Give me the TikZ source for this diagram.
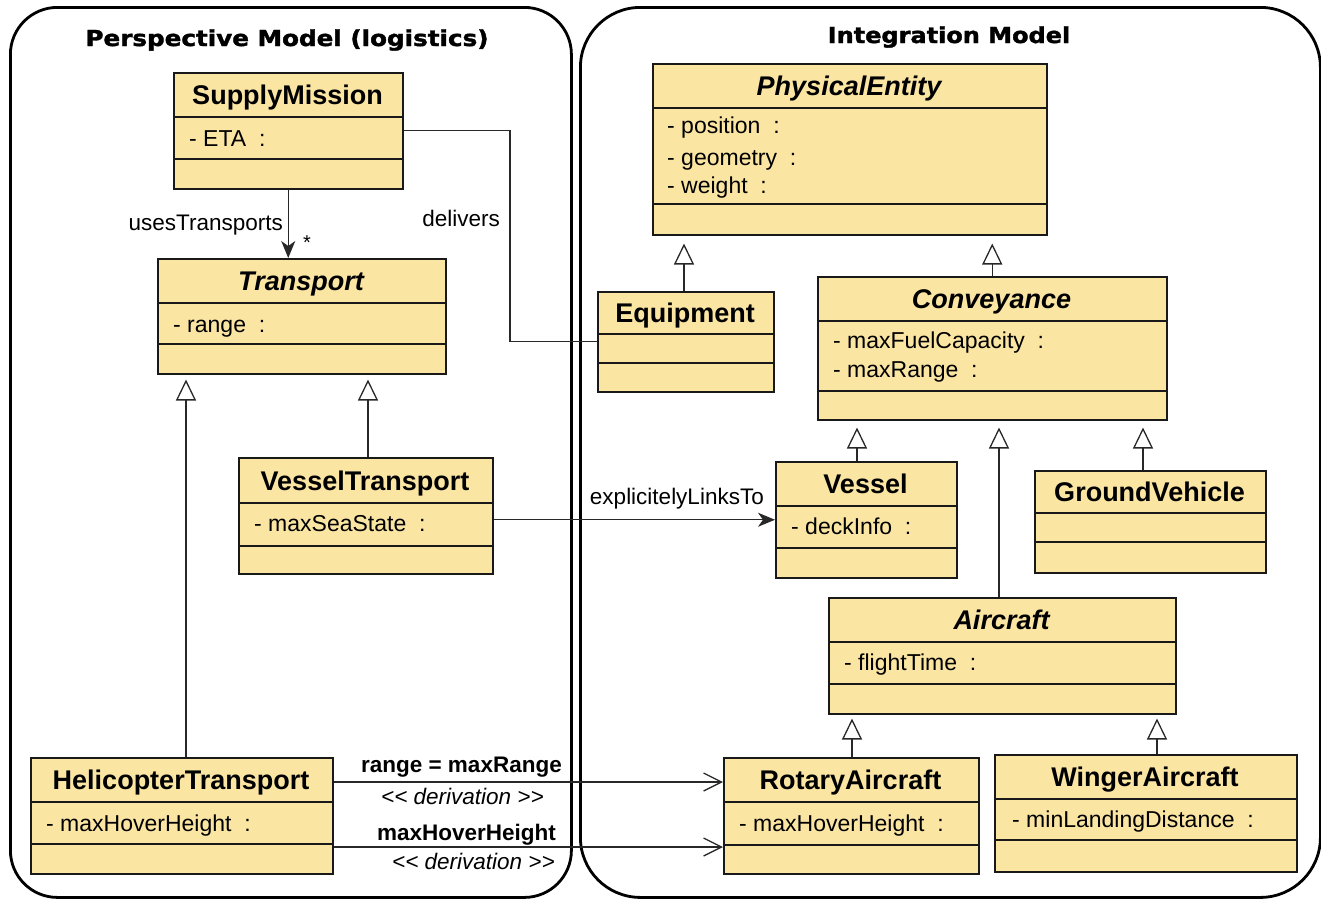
\documentclass[tikz,border=0pt]{standalone}
\usepackage{fontspec}
\usepackage{graphicx}
\setmainfont{Liberation Sans}
\newfontfamily\headfont[BoldFeatures={FakeBold=1.6}]{DejaVu Sans}
\usetikzlibrary{arrows.meta,calc}

\definecolor{classfill}{RGB}{250,229,163}
\definecolor{edge}{RGB}{40,40,40}

\tikzset{
  frame/.style={draw=black, line width=2.8pt, rectangle, inner sep=0pt, anchor=north west},
  classbox/.style={draw=black!90, line width=1.5pt, fill=classfill, rectangle, inner sep=0pt, anchor=north west},
  divider/.style={draw=black!90, line width=1.3pt},
  clsname/.style={font=\fontsize{27}{32}\selectfont\bfseries, anchor=base, inner sep=0pt},
  absname/.style={font=\fontsize{27}{32}\selectfont\bfseries\itshape, anchor=base, inner sep=0pt},
  attr/.style={font=\fontsize{23}{27}\selectfont, anchor=base west, inner sep=0pt},
  lbl/.style={font=\fontsize{22.5}{27}\selectfont, anchor=base east, inner sep=0pt},
  boldlbl/.style={font=\fontsize{22.5}{27}\selectfont\bfseries, anchor=base east, inner sep=0pt},
  stereo/.style={font=\fontsize{22.5}{27}\selectfont\itshape, anchor=base east, inner sep=0pt},
  heading/.style={font=\headfont\fontsize{22}{26}\selectfont\bfseries, anchor=base, inner sep=0pt},
  link/.style={draw=edge, line width=1.3pt},
  assoc/.style={link, -{Stealth[length=17pt,width=14pt,inset=5pt]}},
  deriv/.style={link, -{Straight Barb[length=18pt,width=18pt]}},
  inherit/.style={link, -{Triangle[length=21pt,width=20pt,fill=white]}},
}

% #1 node name, #2/#3 top-left corner, #4/#5 bottom-right corner,
% #6/#7 compartment separators, #8 name style, #9 class name
\newcommand\umlclass[9]{%
  \node[classbox, minimum width={(#4-#2)*1pt}, minimum height={(#5-#3)*1pt}] (#1) at (#2,#3) {};
  \draw[divider] (#2,#6) -- (#4,#6) (#2,#7) -- (#4,#7);
  \node[#8] (#1-name) at ({(#2+#4)/2},{(#3+#6)/2+10}) {#9};
}

\begin{document}
\begin{tikzpicture}[x=1pt, y=-1pt]
\useasboundingbox (0,0) rectangle (1321,898);

% package frames
\node[frame, rounded corners=47pt, minimum width=561pt, minimum height=890pt] (persp) at (9,6) {};
\node[frame, rounded corners=60pt, minimum width=740pt, minimum height=890pt] (integ) at (579,6) {};
\node[heading] (persp-title) at (287,46) {\scalebox{1.12}[1]{Perspective Model (logistics)}};
\node[heading] (integ-title) at (949,43) {\scalebox{1.09}[1]{Integration Model}};

% perspective model classes
\umlclass{sm}{173}{72}{402}{188}{117}{159}{clsname}{SupplyMission}
\node[attr] (sm-a1) at (189,146) {- ETA~~:};

\umlclass{tr}{157}{258}{445}{373}{303}{344}{absname}{Transport}
\node[attr] (tr-a1) at (173,332) {- range~~:};

\umlclass{vt}{238}{457}{492}{573}{503}{546}{clsname}{VesselTransport}
\node[attr] (vt-a1) at (254,531) {- maxSeaState~~:};

\umlclass{ht}{30}{757}{332}{873}{802}{844}{clsname}{HelicopterTransport}
\node[attr] (ht-a1) at (46,831) {- maxHoverHeight~~:};

% integration model classes
\umlclass{pe}{652}{63}{1046}{234}{108}{204}{absname}{PhysicalEntity}
\node[attr] (pe-a1) at (667,133) {- position~~:};
\node[attr] (pe-a2) at (667,165) {- geometry~~:};
\node[attr] (pe-a3) at (667,193) {- weight~~:};

\umlclass{eq}{597}{291}{773}{391}{334}{363}{clsname}{Equipment}

\umlclass{cv}{817}{276}{1166}{419}{321}{391}{absname}{Conveyance}
\node[attr] (cv-a1) at (833,348) {- maxFuelCapacity~~:};
\node[attr] (cv-a2) at (833,377) {- maxRange~~:};

\umlclass{ve}{775}{461}{956}{577}{506}{548}{clsname}{Vessel}
\node[attr] (ve-a1) at (791,534) {- deckInfo~~:};

\umlclass{gv}{1034}{470}{1265}{572}{513}{542}{clsname}{GroundVehicle}

\umlclass{ac}{828}{597}{1175}{713}{642}{684}{absname}{Aircraft}
\node[attr] (ac-a1) at (844,670) {- flightTime~~:};

\umlclass{rt}{723}{757}{978}{873}{802}{845}{clsname}{RotaryAircraft}
\node[attr] (rt-a1) at (739,831) {- maxHoverHeight~~:};

\umlclass{wa}{994}{754}{1296}{871}{799}{840}{clsname}{WingerAircraft}
\node[attr] (wa-a1) at (1012,827) {- minLandingDistance~~:};

% helper coordinates for connector routing
\coordinate (dbend) at (510,0);
\coordinate (d1) at (0,782);
\coordinate (d2) at (0,847);
\coordinate (g1) at (186,0);
\coordinate (g2) at (368,0);
\coordinate (g3) at (684,0);
\coordinate (g4) at (857,0);
\coordinate (g5) at (999,0);
\coordinate (g6) at (1143,0);
\coordinate (g7) at (852,0);
\coordinate (g8) at (1157,0);

% associations
\draw[assoc] (sm.south) -- (sm.south |- tr.north);
\node[lbl] (uses-lbl) at (283,230) {usesTransports};
\node[font=\fontsize{20}{24}\selectfont, inner sep=0pt] (uses-mult) at (307,243) {*};

\draw[link] (sm.east) -| (dbend |- eq.west) -- (eq.west);
\node[lbl] (deliv-lbl) at (500,226) {delivers};

\draw[assoc] (vt.east |- ve.west) -- (ve.west);
\node[lbl] (links-lbl) at (764,504) {explicitelyLinksTo};

% derivations
\draw[deriv] (ht.east |- d1) -- (rt.west |- d1);
\node[boldlbl] (der1-lbl) at (562,772) {range = maxRange};
\node[stereo] (der1-st) at (544,804) {<{}< derivation >{}>};
\draw[deriv] (ht.east |- d2) -- (rt.west |- d2);
\node[boldlbl] (der2-lbl) at (556,840) {maxHoverHeight};
\node[stereo] (der2-st) at (555,869) {<{}< derivation >{}>};

% generalizations
\draw[inherit, shorten >=5pt] (ht.north -| g1) -- (tr.south -| g1);
\draw[inherit, shorten >=5pt] (vt.north -| g2) -- (tr.south -| g2);
\draw[inherit, shorten >=8pt] (eq.north -| g3) -- (pe.south -| g3);
\draw[inherit, shorten >=8pt] (cv.north) -- (pe.south -| cv.north);
\draw[inherit, shorten >=7pt] (ve.north -| g4) -- (cv.south -| g4);
\draw[inherit, shorten >=7pt] (ac.north -| g5) -- (cv.south -| g5);
\draw[inherit, shorten >=7pt] (gv.north -| g6) -- (cv.south -| g6);
\draw[inherit, shorten >=4pt] (rt.north -| g7) -- (ac.south -| g7);
\draw[inherit, shorten >=4pt] (wa.north -| g8) -- (ac.south -| g8);
\end{tikzpicture}
\end{document}
